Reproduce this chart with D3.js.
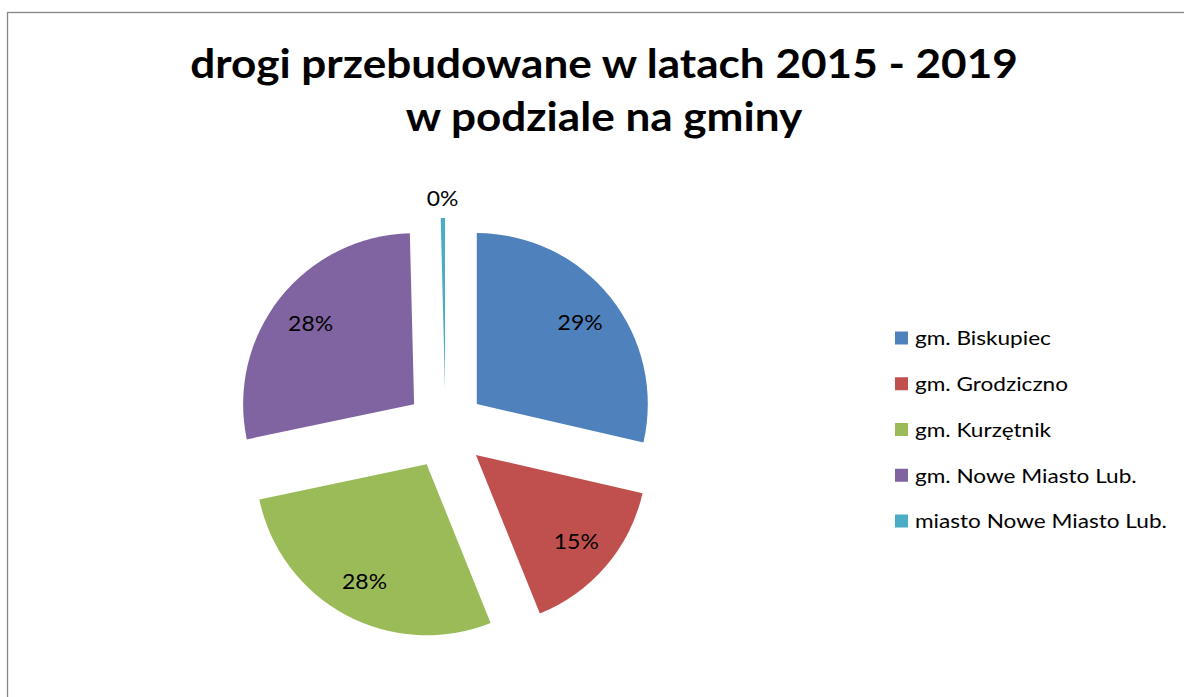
<!DOCTYPE html>
<html>
<head>
<meta charset="utf-8">
<script src="https://cdn.jsdelivr.net/npm/d3@7"></script>
<style>
  html, body { margin: 0; padding: 0; background: #ffffff; }
  svg { display: block; }
  text { font-family: Lato, "Open Sans", sans-serif; fill: #000; }
</style>
</head>
<body>
<svg id="chart" width="1184" height="697"></svg>
<script>
// Road reconstruction 2015-2019, share per municipality (percent)
const categories = [
  "gm. Biskupiec",
  "gm. Grodziczno",
  "gm. Kurzętnik",
  "gm. Nowe Miasto Lub.",
  "miasto Nowe Miasto Lub."
];
const shares = [28.6, 15.3, 27.8, 27.9, 0.4];
const colors = ["#4F81BD", "#C0504D", "#9BBB59", "#8064A2", "#4BACC6"];
const titleLines = ["drogi przebudowane w latach 2015 - 2019", "w podziale na gminy"];

const W = 1184, H = 697;
const svg = d3.select("#chart");

// chart area frame (runs past the right and bottom edges)
svg.append("rect")
  .attr("x", 7.5).attr("y", 12.5)
  .attr("width", W + 20).attr("height", H + 20)
  .attr("fill", "#fff")
  .attr("stroke", "#868686")
  .attr("stroke-width", 1.3);

// horizontal squeeze factor so that a sample string at a given size has the target width
function squeeze(sample, size, target, weight) {
  const t = svg.append("text").attr("font-size", size)
    .attr("font-weight", weight || "normal").text(sample);
  const w = t.node().getComputedTextLength();
  t.remove();
  return target / w;
}

// title
const titleSize = 40;
const titleSx = squeeze(titleLines[0], titleSize, 828, "bold");
const title = svg.append("g").attr("class", "title");
title.selectAll("text")
  .data(titleLines)
  .join("text")
  .attr("transform", (d, i) => `translate(604,${78 + i * 53}) scale(${titleSx},1)`)
  .attr("text-anchor", "middle")
  .attr("font-weight", "bold")
  .attr("font-size", titleSize)
  .text(d => d);

// exploded pie
const cx = 445.5, cy = 429, radius = 171, explode = 40, labelDist = 132;
const data = categories.map((c, i) => ({ name: c, value: shares[i], color: colors[i] }));
const total = d3.sum(shares);
const pie = d3.pie().sort(null).value(d => d.value);
const arc = d3.arc().innerRadius(0).outerRadius(radius);
const arcs = pie(data);
const pct = d3.format(".0%");

const pieG = svg.append("g").attr("transform", `translate(${cx},${cy})`);
const mid = d => (d.startAngle + d.endAngle) / 2;

pieG.selectAll("path.slice")
  .data(arcs)
  .join("path")
  .attr("class", "slice")
  .attr("d", arc)
  .attr("fill", d => d.data.color)
  .attr("transform", d => `translate(${explode * Math.sin(mid(d))},${-explode * Math.cos(mid(d))})`);

const labelSize = 22;
const labelSx = squeeze("28%", labelSize, 45);
const labelPos = d => {
  const m = mid(d);
  const r = (d.endAngle - d.startAngle) < 0.1 ? radius + 20 : labelDist;
  return [(explode + r) * Math.sin(m), -(explode + r) * Math.cos(m)];
};

pieG.selectAll("text.pct")
  .data(arcs)
  .join("text")
  .attr("class", "pct")
  .attr("font-size", labelSize)
  .attr("text-anchor", "middle")
  .attr("dominant-baseline", "central")
  .attr("transform", d => `translate(${labelPos(d)}) scale(${labelSx},1)`)
  .text(d => pct(d.data.value / total));

// legend
const legend = svg.append("g").attr("class", "legend");
const rowY = d3.scalePoint().domain(categories).range([338, 521]);
const legendSize = 20;
const legendSx = squeeze(categories[4], legendSize, 252);

const rows = legend.selectAll("g.row")
  .data(data)
  .join("g")
  .attr("class", "row")
  .attr("transform", d => `translate(895,${rowY(d.name)})`);
rows.append("rect")
  .attr("x", 0).attr("y", -6.5)
  .attr("width", 13).attr("height", 13)
  .attr("fill", d => d.color);
rows.append("text")
  .attr("transform", `translate(20,0) scale(${legendSx},1)`)
  .attr("dominant-baseline", "central")
  .attr("font-size", legendSize)
  .text(d => d.name);
</script>
</body>
</html>
